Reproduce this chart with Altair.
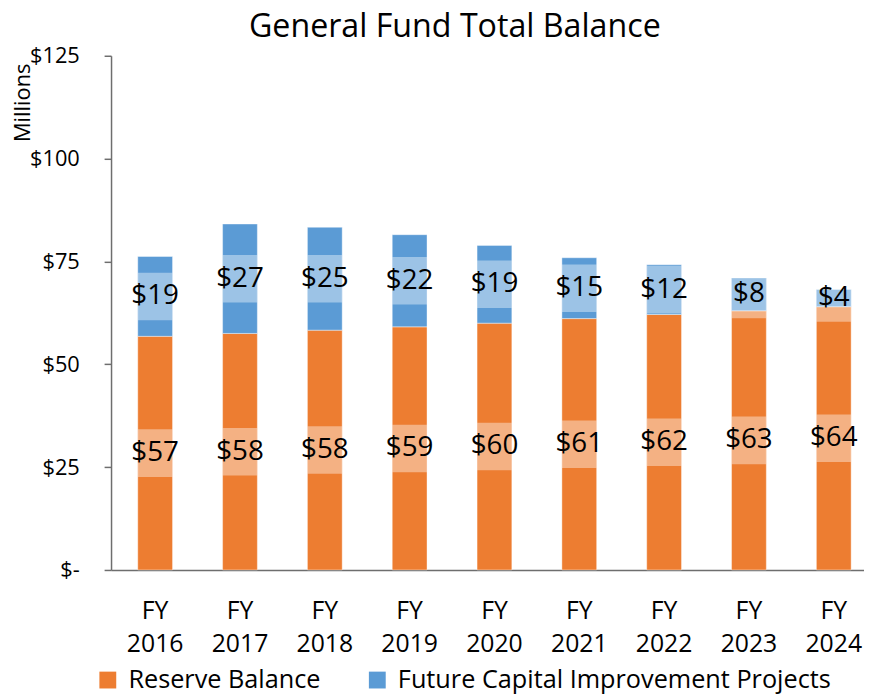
import altair as alt
import pandas as pd

years = ["2016", "2017", "2018", "2019", "2020", "2021", "2022", "2023", "2024"]
reserve = [56.8, 57.5, 58.3, 59.1, 60.0, 61.1, 62.1, 63.0, 64.0]
future = [19.4, 26.6, 25.0, 22.4, 18.9, 14.8, 12.1, 8.0, 4.2]
series_names = ["Reserve Balance", "Future Capital Improvement Projects"]
colors = ["#ED7D31", "#5B9BD5"]
y_ticks = [0, 25, 50, 75, 100, 125]

rows = []
for i, yr in enumerate(years):
    base = 0.0
    for k, (name, vals) in enumerate(zip(series_names, [reserve, future])):
        v = vals[i]
        rows.append(dict(year=yr, series=name, order=k, start=base, end=base + v,
                         mid=base + v / 2, label=f"${round(v)}"))
        base += v
df = pd.DataFrame(rows)

FONT = "Open Sans"
AXIS_COLOR = "#6e6e6e"

x_enc = alt.X(
    "year:N", sort=years, title=None,
    scale=alt.Scale(range=[0, 774], paddingInner=0.59, paddingOuter=0.315),
    axis=alt.Axis(labelExpr="['FY', datum.label]", labelAngle=0, ticks=False,
                  domainColor=AXIS_COLOR, domainWidth=1.5, labelFont=FONT,
                  labelFontSize=25, labelColor="black", labelLineHeight=33,
                  labelPadding=29, labelBaseline="top"),
)

y_axis = alt.Axis(values=y_ticks, grid=False, labelFont=FONT, labelFontSize=22,
                  labelColor="black", domainColor=AXIS_COLOR, domainWidth=1.5,
                  tickColor=AXIS_COLOR, tickWidth=1.5, tickSize=7, labelPadding=25,
                  labelExpr="datum.value == 0 ? '$-' : '$' + datum.value",
                  title="Millions",
                  titleFont=FONT, titleFontSize=22, titleFontWeight="normal",
                  titleColor="black", titleAngle=-90, titleX=-89, titleY=47,
                  titleAlign="center", titleBaseline="middle", titleLimit=300)
y_scale = alt.Scale(domain=[0, 125], nice=False, zero=True)

base = alt.Chart(df)

bars = base.mark_bar(stroke="white", strokeWidth=0.8, strokeOpacity=0.5).encode(
    x=x_enc,
    y=alt.Y("start:Q", scale=y_scale, axis=y_axis, title="Millions"),
    y2="end:Q",
    color=alt.Color("series:N", sort=series_names,
                    scale=alt.Scale(domain=series_names, range=colors),
                    legend=alt.Legend(title=None, orient="none", direction="horizontal",
                                      legendX=-16, legendY=617, symbolType="square",
                                      symbolSize=289, symbolStrokeWidth=0,
                                      labelFont=FONT, labelFontSize=25.5,
                                      labelColor="black", labelOffset=8,
                                      labelLimit=1000,
                                      columnPadding=44, padding=0)),
    order="order:Q",
)

boxes = base.mark_tick(color="white", opacity=0.4, size=35, thickness=48).encode(
    x=x_enc,
    y=alt.Y("mid:Q", scale=y_scale, axis=y_axis, title="Millions"),
)

labels = base.mark_text(font=FONT, fontSize=28, color="black", baseline="middle").encode(
    x=x_enc,
    y=alt.Y("mid:Q", scale=y_scale, axis=y_axis, title="Millions"),
    text="label:N",
)

chart = alt.layer(bars, boxes, labels).properties(
    width=760, height=519,
    autosize=alt.AutoSizeParams(type="none"),
    padding={"left": 104, "top": 45, "right": 0, "bottom": 123},
    title=alt.TitleParams("General Fund Total Balance", font=FONT, fontSize=32.5,
                          fontWeight="normal", color="black", anchor="middle",
                          dx=-33, dy=11, offset=12),
).configure_view(stroke=None).configure_axisY(
    titleFontSize=22, titleFont=FONT, titleFontWeight="normal"
)

chart.save("out.html", embed_options={"renderer": "svg", "actions": False})
